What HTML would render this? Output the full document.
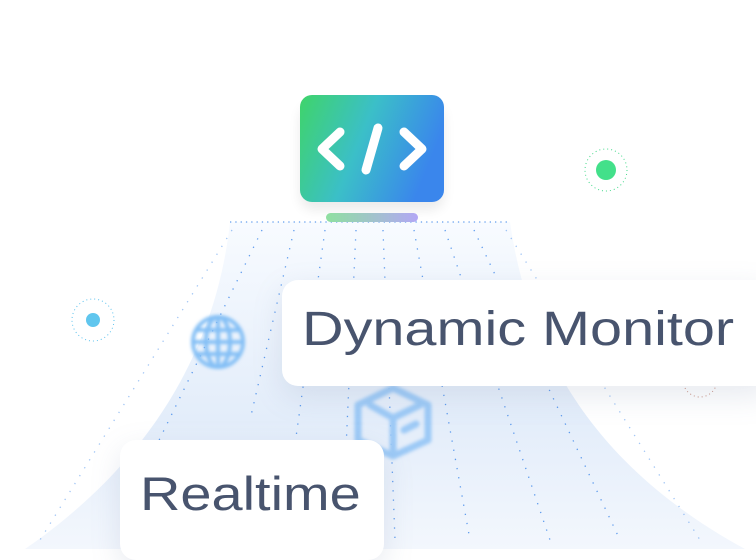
<!DOCTYPE html>
<html><head><style>
html,body{margin:0;padding:0;width:756px;height:549px;overflow:hidden;background:#fff;font-family:"Liberation Sans",sans-serif}
.card{position:absolute;background:#fff;border-radius:16px;box-shadow:0 10px 30px rgba(120,140,170,.18);color:#48546e;white-space:nowrap}
.t{position:absolute;transform-origin:0 0}
</style></head><body>
<svg width="756" height="549" style="position:absolute;left:0;top:0">
<defs>
<linearGradient id="tr" x1="0" y1="0" x2="0" y2="1">
<stop offset="0" stop-color="#f8fbff"/><stop offset="0.6" stop-color="#e3edfa"/><stop offset="1" stop-color="#f3f7fd"/></linearGradient>
<linearGradient id="ic" x1="0" y1="0" x2="1" y2="0.3">
<stop offset="0" stop-color="#3fd46a"/><stop offset="0.5" stop-color="#3bbfc8"/><stop offset="1" stop-color="#3a86ec"/></linearGradient>
<linearGradient id="bar" x1="0" x2="1"><stop offset="0" stop-color="#8fe0a0"/><stop offset="1" stop-color="#b3a7f5"/></linearGradient>
<filter id="bl"><feGaussianBlur stdDeviation="1.5"/></filter>
<filter id="sh"><feGaussianBlur stdDeviation="6"/></filter>
</defs>
<path d="M230 222 L510 222 C530 360 600 470 745 549 L25 549 C140 470 215 360 230 222Z" fill="url(#tr)"/>
<g stroke="#2f7ee8" stroke-width="1.3" stroke-dasharray="1.3 8" fill="none" opacity="0.75">
<line x1="230" y1="222" x2="510" y2="222" stroke-dasharray="1.3 4"/>
<line x1="232" y1="230" x2="40" y2="540" opacity="0.6"/>
<line x1="262" y1="230" x2="120" y2="520"/>
<line x1="294" y1="230" x2="250" y2="420"/>
<line x1="325" y1="230" x2="290" y2="480"/>
<line x1="356" y1="230" x2="345" y2="470"/>
<line x1="383" y1="230" x2="395" y2="540"/>
<line x1="414" y1="230" x2="470" y2="540"/>
<line x1="445" y1="230" x2="550" y2="540"/>
<line x1="474" y1="230" x2="620" y2="540"/>
<line x1="506" y1="230" x2="700" y2="540" opacity="0.6"/>
</g>
<rect x="300" y="105" width="144" height="105" rx="14" fill="#000" opacity="0.08" filter="url(#sh)"/>
<rect x="300" y="95" width="144" height="107" rx="12" fill="url(#ic)"/>
<g stroke="#fff" stroke-width="9" stroke-linecap="round" stroke-linejoin="round" fill="none">
<polyline points="340,132 322,149 340,166"/>
<polyline points="404,132 422,149 404,166"/>
<line x1="378" y1="128" x2="366" y2="170"/>
</g>
<rect x="326" y="213" width="92" height="9" rx="4.5" fill="url(#bar)"/>
<circle cx="606" cy="170" r="21" fill="none" stroke="#43d98a" stroke-width="1" stroke-dasharray="1 3"/>
<circle cx="606" cy="170" r="10" fill="#43e08a"/>
<circle cx="93" cy="320" r="21" fill="none" stroke="#5cc2ee" stroke-width="1" stroke-dasharray="1 3"/>
<circle cx="93" cy="320" r="7" fill="#60c6ee"/>
<circle cx="700" cy="380" r="17" fill="none" stroke="#c89080" stroke-width="1" stroke-dasharray="1 3"/>
<circle cx="555" cy="290" r="10" fill="#7fc0f0"/>
<g filter="url(#bl)" stroke="#84bff5" stroke-width="4" fill="none">
<circle cx="218" cy="342" r="25"/>
<ellipse cx="218" cy="342" rx="12" ry="25"/>
<line x1="193" y1="342" x2="243" y2="342"/>
<line x1="196" y1="330" x2="240" y2="330"/>
<line x1="196" y1="354" x2="240" y2="354"/>
<line x1="218" y1="317" x2="218" y2="367"/>
</g>
<g filter="url(#bl)" stroke="#9cc9f6" stroke-width="7" fill="none" stroke-linejoin="round" stroke-linecap="round">
<polygon points="393,388 428,405 428,440 393,456 358,440 358,405"/>
<polyline points="370,405 393,418 420,405"/>
<line x1="393" y1="418" x2="393" y2="452"/>
<line x1="404" y1="430" x2="416" y2="424"/>
</g>
</svg>
<div class="card" style="left:282px;top:280px;width:490px;height:106px;">
<div class="t" style="left:20px;top:22px;font-size:48px;transform:scaleX(1.2)">Dynamic Monitor</div></div>
<div class="card" style="left:120px;top:440px;width:264px;height:120px;">
<div class="t" style="left:20px;top:26px;font-size:47px;transform:scaleX(1.19)">Realtime</div></div>
</body></html>
